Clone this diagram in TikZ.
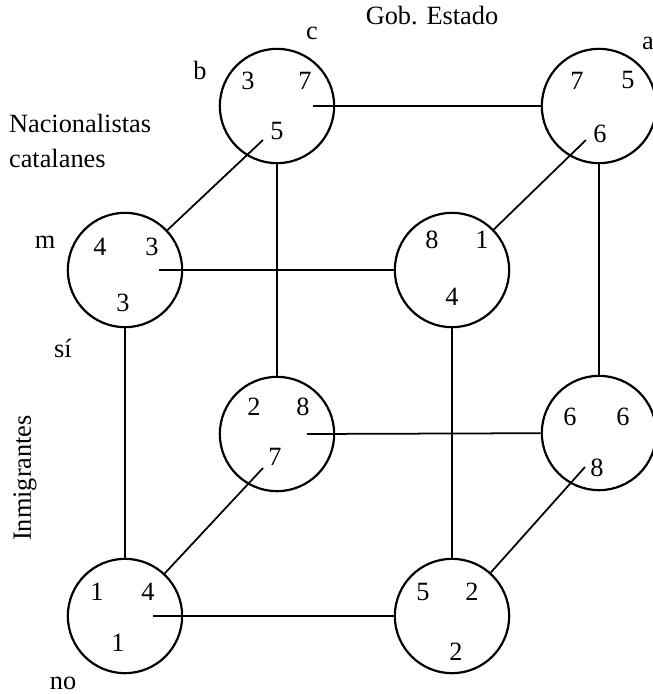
\documentclass[tikz,border=0pt]{standalone}
\usepackage{fontspec}
\setmainfont{Liberation Serif}
\usepackage{tikz}
\usetikzlibrary{calc, positioning}

\tikzset{
  player/.style = {draw, circle, line width=1pt, minimum size=1.83cm, inner sep=0pt},
  payoff/.style = {font=\fontsize{12}{14}\selectfont, inner sep=1pt},
  lbl/.style = {font=\fontsize{12}{16}\selectfont, inner sep=1pt},
}

\begin{document}
\begin{tikzpicture}[x=0.016cm, y=-0.016cm, line width=0.8pt]
        \useasboundingbox (0,0) rectangle (653,694);
        % the eight outcomes
        \node[player] (bTL) at (277,106) {};
        \node[player] (bTR) at (599,106) {};
        \node[player] (fTL) at (125,270) {};
        \node[player] (fTR) at (452,270) {};
        \node[player] (bBL) at (277,434) {};
        \node[player] (bBR) at (599,433) {};
        \node[player] (fBL) at (125,616) {};
        \node[player] (fBR) at (452,616) {};
        % payoffs
        \node[payoff] (bTL1) at (248,81) {3};
        \node[payoff] (bTL2) at (305,81) {7};
        \node[payoff] (bTL3) at (277,131) {5};
        \node[payoff] (bTR1) at (577,81) {7};
        \node[payoff] (bTR2) at (628,80) {5};
        \node[payoff] (bTR3) at (600,134) {6};
        \node[payoff] (fTL1) at (100,247) {4};
        \node[payoff] (fTL2) at (152,247) {3};
        \node[payoff] (fTL3) at (123,303) {3};
        \node[payoff] (fTR1) at (432,240) {8};
        \node[payoff] (fTR2) at (482,240) {1};
        \node[payoff] (fTR3) at (452,297) {4};
        \node[payoff] (bBL1) at (254,407) {2};
        \node[payoff] (bBL2) at (303,407) {8};
        \node[payoff] (bBL3) at (275,457) {7};
        \node[payoff] (bBR1) at (570,417) {6};
        \node[payoff] (bBR2) at (623,417) {6};
        \node[payoff] (bBR3) at (597,468) {8};
        \node[payoff] (fBL1) at (97,592) {1};
        \node[payoff] (fBL2) at (148,592) {4};
        \node[payoff] (fBL3) at (118,643) {1};
        \node[payoff] (fBR1) at (423,592) {5};
        \node[payoff] (fBR2) at (472,592) {2};
        \node[payoff] (fBR3) at (456,652) {2};
        % labels
        \node[lbl] (gob) at (432,16) {Gob. Estado};
        \node[lbl] (c) at (312,33) {c};
        \node[lbl] (b) at (200,70) {b};
        \node[lbl] (a) at (648,43) {a};
        \node[lbl, anchor=north west, align=left] (nac) at (6,111) {Nacionalistas\\catalanes};
        \node[lbl] (m) at (45,242) {m};
        \node[lbl] (si) at (63,348) {sí};
        \node[lbl, rotate=90] (inm) at (25,478) {Inmigrantes};
        \node[lbl] (no) at (63,683) {no};
        % inner ends of the connectors
        \coordinate (bTLh) at ($(bTL)+(36,0)$);
        \coordinate (fTLh) at ($(fTL)+(34,0)$);
        \coordinate (bBLh) at ($(bBL)+(30,0)$);
        \coordinate (fBLh) at ($(fBL)+(28,0)$);
        \coordinate (bTLd) at ($(bTL)+(-14,34)$);
        \coordinate (bTRd) at ($(bTR)+(-13,34)$);
        \coordinate (bBLd) at ($(bBL)+(-14,34)$);
        \coordinate (bBRd) at ($(bBR)+(-14,34)$);
        % connectors
        \draw (bTLh) -- (bTR);
        \draw (fTLh) -- (fTR);
        \draw (bBLh) -- (bBR);
        \draw (fBLh) -- (fBR);
        \draw (fTL) -- (bTLd);
        \draw (fTR) -- (bTRd);
        \draw (fBL) -- (bBLd);
        \draw (fBR) -- (bBRd);
        \draw (bTL) -- (bBL);
        \draw (bTR) -- (bBR);
        \draw (fTL) -- (fBL);
        \draw (fTR) -- (fBR);
    \end{tikzpicture}
\end{document}
